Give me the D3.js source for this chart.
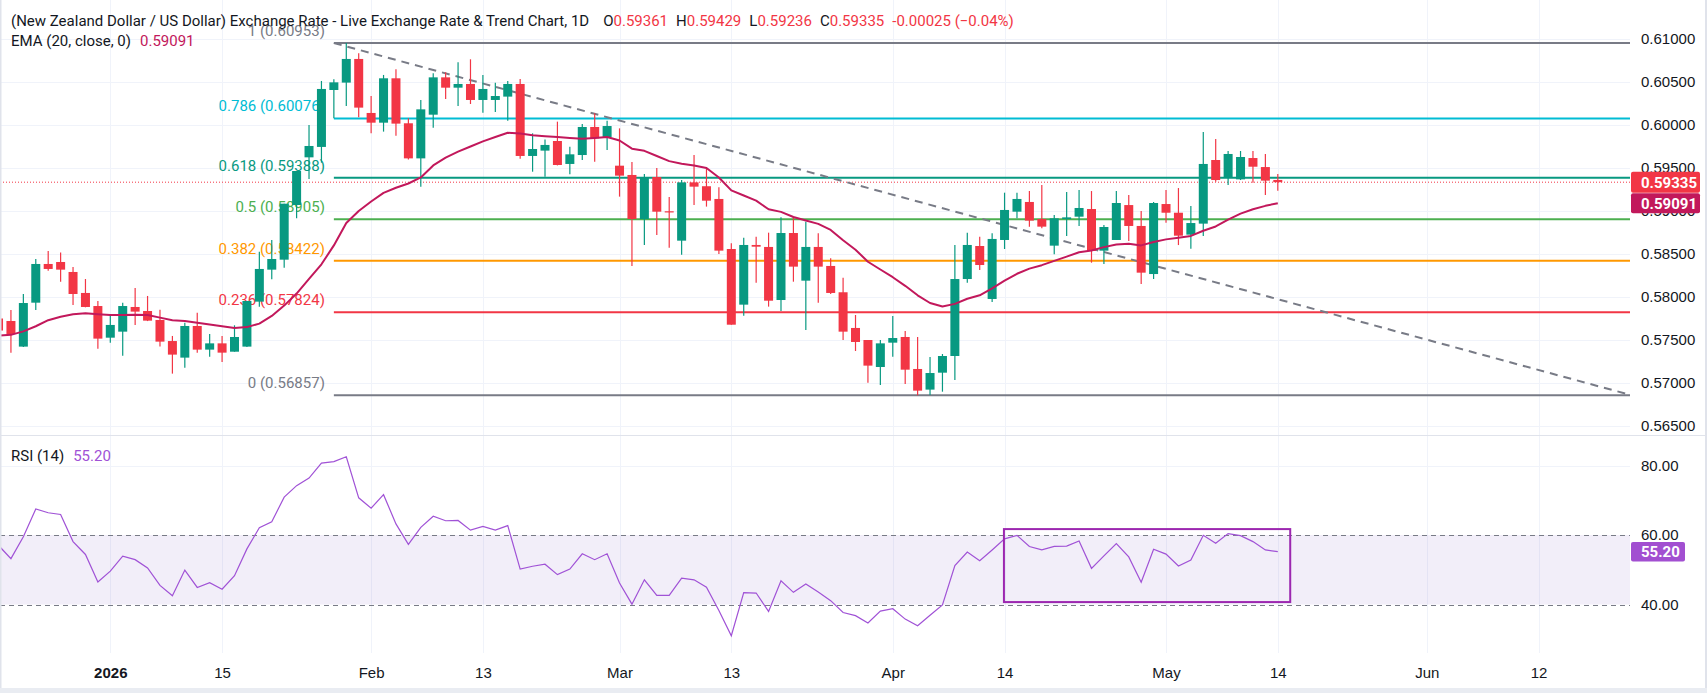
<!DOCTYPE html>
<html>
<head>
<meta charset="utf-8">
<script src="https://cdn.jsdelivr.net/npm/d3@7"></script>
<style>
  body { margin: 0; background: #fff; }
  svg { display: block; font-family: Roboto, "Open Sans", sans-serif; }
  .tick text { font-size: 15px; fill: #131722; }
</style>
</head>
<body>
<svg id="chart" width="1707" height="693"></svg>
<script>
/* SECTION: data */

// bar index 0 = first bar of 2026, bars run from -9 to 94
var firstBar = -9;

var openP = [0.5775,0.57721,0.57423,0.57934,0.58384,0.58407,0.58291,0.58047,0.57895,
  0.57527,0.57597,0.57884,0.57837,0.57733,0.57488,0.57295,0.57663,0.57388,0.57461,
  0.57364,0.57423,0.57946,0.58318,0.58434,0.59070,0.59624,0.59745,0.60407,0.60493,
  0.60768,0.60140,0.60027,0.60543,0.60020,0.59612,0.60120,0.60554,0.60434,0.60477,
  0.60291,0.60291,0.60330,0.60477,0.59640,0.59702,0.59814,0.59547,0.59651,0.59977,
  0.59857,0.59527,0.59419,0.58907,0.59395,0.58997,0.58655,0.59333,0.59288,0.59140,
  0.58558,0.57911,0.58605,0.58582,0.57965,0.58744,0.58190,0.58582,0.58361,0.58055,
  0.57640,0.57500,0.57186,0.57469,0.57535,0.57163,0.56923,0.57120,0.57314,0.58209,
  0.58593,0.57977,0.58663,0.58992,0.59105,0.58907,0.58597,0.58907,0.58934,0.59023,
  0.58539,0.58663,0.59069,0.58826,0.58267,0.59081,0.58980,0.58725,0.58853,0.59593,
  0.59387,0.59368,0.59616,0.59511,0.59361];
var highP = [0.5779,0.57849,0.58035,0.58442,0.58535,0.58516,0.58349,0.58209,0.57954,
  0.57791,0.57934,0.58105,0.58012,0.57853,0.57547,0.57702,0.57818,0.57570,0.57547,
  0.57671,0.57954,0.58527,0.58663,0.59085,0.59465,0.60000,0.60512,0.60531,0.60953,
  0.60834,0.60337,0.60582,0.60647,0.60078,0.60291,0.60601,0.60612,0.60729,0.60764,
  0.60581,0.60492,0.60512,0.60535,0.59903,0.59830,0.60039,0.59748,0.60012,0.60136,
  0.60050,0.59961,0.59570,0.59430,0.59500,0.59163,0.59361,0.59651,0.59496,0.59275,
  0.58624,0.58690,0.58702,0.58748,0.58926,0.58926,0.58876,0.58740,0.58450,0.58225,
  0.57791,0.57500,0.57500,0.57779,0.57605,0.57535,0.57302,0.57337,0.58605,0.58748,
  0.58702,0.58740,0.59213,0.59213,0.59232,0.59302,0.58953,0.59221,0.59244,0.59232,
  0.58837,0.59232,0.59186,0.59000,0.59105,0.59244,0.59267,0.59058,0.59919,0.59837,
  0.59698,0.59698,0.59698,0.59663,0.59429];
var lowP = [0.5752,0.57353,0.57420,0.57849,0.58306,0.58178,0.57907,0.57880,0.57399,
  0.57469,0.57318,0.57675,0.57720,0.57423,0.57109,0.57178,0.57353,0.57306,0.57244,
  0.57364,0.57420,0.57888,0.58206,0.58341,0.58915,0.59372,0.59562,0.60078,0.60221,
  0.60089,0.59903,0.59923,0.59876,0.59600,0.59283,0.59969,0.60302,0.60221,0.60244,
  0.60143,0.60151,0.60050,0.59609,0.59457,0.59399,0.59530,0.59426,0.59593,0.59574,
  0.59709,0.59167,0.58361,0.58605,0.58721,0.58574,0.58492,0.59070,0.59051,0.58500,
  0.57678,0.57783,0.58167,0.57888,0.57837,0.58178,0.57616,0.57934,0.58035,0.57500,
  0.57372,0.57004,0.56977,0.57306,0.56989,0.56857,0.56860,0.56899,0.57035,0.58167,
  0.58314,0.57942,0.58558,0.58915,0.58818,0.58798,0.58496,0.58709,0.58826,0.58399,
  0.58384,0.58663,0.58651,0.58151,0.58209,0.58864,0.58604,0.58562,0.58709,0.59340,
  0.59302,0.59360,0.59329,0.59186,0.59236];
var closeP = [0.5761,0.57570,0.57930,0.58384,0.58326,0.58318,0.58035,0.57884,0.57516,
  0.57675,0.57895,0.57830,0.57725,0.57481,0.57330,0.57663,0.57388,0.57461,0.57353,
  0.57535,0.57954,0.58326,0.58442,0.59085,0.59465,0.59756,0.60419,0.60496,0.60768,
  0.60202,0.60027,0.60543,0.60016,0.59612,0.60182,0.60554,0.60434,0.60477,0.60291,
  0.60419,0.60337,0.60477,0.59640,0.59721,0.59768,0.59535,0.59659,0.59977,0.59845,
  0.59988,0.59411,0.58907,0.59388,0.58992,0.58992,0.59333,0.59283,0.59120,0.58539,
  0.57678,0.58605,0.58585,0.57957,0.58744,0.58353,0.58582,0.58353,0.58047,0.57597,
  0.57477,0.57202,0.57461,0.57523,0.57155,0.56911,0.57116,0.57314,0.58209,0.58605,
  0.58372,0.58675,0.59012,0.59140,0.58888,0.58818,0.58915,0.58926,0.59035,0.58535,
  0.58814,0.59093,0.58826,0.58283,0.59093,0.58980,0.58713,0.58860,0.59547,0.59360,
  0.59663,0.59628,0.59515,0.59353,0.59335];

var ema20 = [0.5755,0.5756,0.5760,0.5766,0.5773,0.5777,0.5780,0.5781,0.5780,
  0.5779,0.5779,0.57795,0.5779,0.5776,0.5773,0.5772,0.5770,0.5768,0.5766,
  0.5764,0.5765,0.5769,0.5778,0.5790,0.5804,0.5821,0.5838,0.5860,0.5886,
  0.5900,0.5911,0.5921,0.5927,0.5932,0.5939,0.5953,0.5962,0.5969,0.5975,
  0.5981,0.5986,0.5991,0.5990,0.5988,0.5987,0.5986,0.5985,0.5984,0.5985,
  0.5986,0.5982,0.59725,0.5970,0.5964,0.5958,0.5955,0.5953,0.5950,0.5939,
  0.5924,0.5918,0.5912,0.5902,0.5899,0.5893,0.5889,0.5885,0.5878,0.5866,
  0.5855,0.5841,0.5832,0.5823,0.5813,0.5802,0.5793,0.5789,0.5792,0.5798,
  0.5802,0.5810,0.5819,0.5827,0.5833,0.5837,0.5842,0.5847,0.5852,0.5854,
  0.5858,0.5861,0.5862,0.5860,0.5864,0.5867,0.5869,0.5871,0.5877,0.5882,
  0.5890,0.5897,0.5902,0.5906,0.59091];

var rsi14 = [57.0,53.2,59.5,67.5,66.4,65.9,58.1,54.4,46.5,
  49.6,53.9,52.9,50.5,45.5,42.5,49.9,44.9,46.3,44.4,
  48.3,56.0,62.1,63.8,70.9,74.2,76.4,80.7,81.1,82.5,
  70.7,67.7,71.6,63.2,57.3,62.2,65.4,64.1,64.2,61.4,
  62.5,61.4,62.7,50.2,51.0,51.6,48.6,50.2,54.6,52.9,
  54.6,46.2,40.1,47.1,42.6,42.6,47.6,47.1,45.0,38.3,
  31.0,43.4,43.3,38.0,46.8,43.5,45.9,43.6,41.1,37.7,
  36.8,34.7,38.1,38.8,35.8,33.9,36.9,39.9,51.2,55.1,
  52.6,55.7,58.9,59.9,56.7,55.7,56.7,56.8,58.3,50.4,
  54.0,57.5,53.7,46.4,55.9,54.5,51.1,52.8,59.9,57.6,
  60.4,59.8,58.1,55.7,55.2];

var priceTicks = [0.565,0.57,0.575,0.58,0.585,0.59,0.595,0.60,0.605,0.61];
var rsiTicks = [40, 60, 80];

var timeTickIndex = [0, 9, 21, 30, 41, 50, 63, 72, 85, 94, 106, 115];
var timeTickLabel = ['2026','15','Feb','13','Mar','13','Apr','14','May','14','Jun','12'];

var fibLevel = ['1','0.786','0.618','0.5','0.382','0.236','0'];
var fibPrice = [0.60953,0.60076,0.59388,0.58905,0.58422,0.57824,0.56857];
var fibColor = ['#787b86','#00bcd4','#089981','#4caf50','#ff9800','#f23645','#787b86'];
var fibAnchor = [18, 122.5];   // bar indices where the fib tool starts / ends

var rsiBox = {from: 71.95, to: 95.0, top: 61.7, bottom: 40.7};

var lastPrice = 0.59335, lastEma = 0.59091, lastRsi = 55.20;
var legendOHLC = [['O', '0.59361'], ['H', '0.59429'], ['L', '0.59236'], ['C', '0.59335']];
var legendChange = '-0.00025 (\u22120.04%)';

/* SECTION: layout */

var svg = d3.select('#chart');
var plotRight = 1630, pricePaneBottom = 435, rsiPaneTop = 436, rsiPaneBottom = 653;
var up = '#089981', down = '#f23645', emaColor = '#c2185b', rsiColor = '#a052d6';
var fs = 15;

var x = d3.scaleLinear().domain([0, 94]).range([110.3, 1277.8]);
var y = d3.scaleLinear().domain([0.565, 0.61]).range([426, 39]);
var yR = d3.scaleLinear().domain([40, 80]).range([604.5, 465.5]);

var bars = openP.map(function(o, j) {
  return {i: j + firstBar, o: o, h: highP[j], l: lowP[j], c: closeP[j], e: ema20[j], r: rsi14[j]};
});

var defs = svg.append('defs');
defs.append('clipPath').attr('id', 'clipP').append('rect')
  .attr('x', 0).attr('y', 0).attr('width', plotRight).attr('height', pricePaneBottom);
defs.append('clipPath').attr('id', 'clipR').append('rect')
  .attr('x', 0).attr('y', rsiPaneTop).attr('width', plotRight).attr('height', rsiPaneBottom - rsiPaneTop);

/* SECTION: grid */

var grid = svg.append('g').attr('stroke', '#f0f3fa').attr('stroke-width', 1);
grid.selectAll('.hp').data(priceTicks).enter().append('line')
  .attr('x1', 0).attr('x2', plotRight)
  .attr('y1', function(d) { return Math.round(y(d)) + 0.5; })
  .attr('y2', function(d) { return Math.round(y(d)) + 0.5; });
grid.append('line').attr('x1', 0).attr('x2', plotRight)
  .attr('y1', Math.round(yR(80)) + 0.5).attr('y2', Math.round(yR(80)) + 0.5);
grid.selectAll('.vp').data(timeTickIndex).enter().append('line')
  .attr('x1', function(d) { return Math.round(x(d)) + 0.5; })
  .attr('x2', function(d) { return Math.round(x(d)) + 0.5; })
  .attr('y1', 0).attr('y2', pricePaneBottom);
grid.selectAll('.vr').data(timeTickIndex).enter().append('line')
  .attr('x1', function(d) { return Math.round(x(d)) + 0.5; })
  .attr('x2', function(d) { return Math.round(x(d)) + 0.5; })
  .attr('y1', rsiPaneTop).attr('y2', rsiPaneBottom);

/* SECTION: price pane */

var pp = svg.append('g').attr('clip-path', 'url(#clipP)');

// last price line
pp.append('line')
  .attr('x1', 0).attr('x2', plotRight)
  .attr('y1', y(lastPrice)).attr('y2', y(lastPrice))
  .attr('stroke', down).attr('stroke-width', 1).attr('stroke-dasharray', '1,2');

// fib retracement
var fx1 = x(fibAnchor[0]), fx2 = x(fibAnchor[1]);
pp.selectAll('.fib').data(fibPrice).enter().append('line')
  .attr('x1', fx1).attr('x2', fx2)
  .attr('y1', function(d) { return y(d); }).attr('y2', function(d) { return y(d); })
  .attr('stroke', function(d, k) { return fibColor[k]; })
  .attr('stroke-width', 2);
pp.append('line')
  .attr('x1', fx1).attr('y1', y(fibPrice[0]))
  .attr('x2', fx2).attr('y2', y(fibPrice[fibPrice.length - 1]))
  .attr('stroke', '#787b86').attr('stroke-width', 2).attr('stroke-dasharray', '8,6');
pp.selectAll('.fibl').data(fibPrice).enter().append('text')
  .attr('x', fx1 - 9)
  .attr('y', function(d) { return y(d) - 7; })
  .attr('text-anchor', 'end')
  .attr('font-size', fs)
  .attr('fill', function(d, k) { return fibColor[k]; })
  .text(function(d, k) { return fibLevel[k] + ' (' + d.toFixed(5) + ')'; });

// candles
var candle = pp.selectAll('.candle').data(bars).enter().append('g');
candle.append('line')
  .attr('x1', function(d) { return x(d.i); }).attr('x2', function(d) { return x(d.i); })
  .attr('y1', function(d) { return y(d.h); }).attr('y2', function(d) { return y(d.l); })
  .attr('stroke', function(d) { return d.c >= d.o ? up : down; })
  .attr('stroke-width', 1.2);
candle.append('rect')
  .attr('x', function(d) { return x(d.i) - 4.5; })
  .attr('width', 9)
  .attr('y', function(d) { return y(Math.max(d.o, d.c)); })
  .attr('height', function(d) { return Math.max(1.2, Math.abs(y(d.o) - y(d.c))); })
  .attr('fill', function(d) { return d.c >= d.o ? up : down; });

// EMA 20
pp.append('path').datum(bars)
  .attr('fill', 'none').attr('stroke', emaColor).attr('stroke-width', 2)
  .attr('stroke-linejoin', 'round')
  .attr('d', d3.line().x(function(d) { return x(d.i); }).y(function(d) { return y(d.e); }));

/* SECTION: RSI pane */

var rp = svg.append('g').attr('clip-path', 'url(#clipR)');
rp.append('rect')
  .attr('x', 0).attr('width', plotRight)
  .attr('y', yR(60)).attr('height', yR(40) - yR(60))
  .attr('fill', 'rgba(126,87,194,0.1)');
rp.selectAll('.band').data([60, 40]).enter().append('line')
  .attr('x1', 0).attr('x2', plotRight)
  .attr('y1', function(d) { return Math.round(yR(d)) + 0.5; })
  .attr('y2', function(d) { return Math.round(yR(d)) + 0.5; })
  .attr('stroke', '#787b86').attr('stroke-dasharray', '5,4');
rp.append('path').datum(bars)
  .attr('fill', 'none').attr('stroke', rsiColor).attr('stroke-width', 1.2)
  .attr('d', d3.line().x(function(d) { return x(d.i); }).y(function(d) { return yR(d.r); }));
rp.append('rect')
  .attr('x', x(rsiBox.from)).attr('width', x(rsiBox.to) - x(rsiBox.from))
  .attr('y', yR(rsiBox.top)).attr('height', yR(rsiBox.bottom) - yR(rsiBox.top))
  .attr('fill', 'none').attr('stroke', '#9c27b0').attr('stroke-width', 2);

/* SECTION: axes */

var yAxis = svg.append('g').attr('transform', 'translate(' + plotRight + ',0)')
  .call(d3.axisRight(y).tickValues(priceTicks).tickFormat(d3.format('.5f')).tickSize(0).tickPadding(11));
var rAxis = svg.append('g').attr('transform', 'translate(' + plotRight + ',0)')
  .call(d3.axisRight(yR).tickValues(rsiTicks).tickFormat(d3.format('.2f')).tickSize(0).tickPadding(11));
var xAxis = svg.append('g').attr('transform', 'translate(0,' + rsiPaneBottom + ')')
  .call(d3.axisBottom(x).tickValues(timeTickIndex)
    .tickFormat(function(d, k) { return timeTickLabel[k]; }).tickSize(0).tickPadding(14));
[yAxis, rAxis, xAxis].forEach(function(g) {
  g.select('.domain').remove();
  g.selectAll('text').attr('font-family', null).attr('font-size', null);
});
xAxis.selectAll('text').filter(function(d, k) { return k === 0; }).attr('font-weight', 'bold');

// value tags on the right axis
function tag(yy, h, w, color, label) {
  svg.append('rect').attr('x', plotRight + 1).attr('y', yy - h / 2)
    .attr('width', w).attr('height', h).attr('rx', 2).attr('fill', color);
  svg.append('text').attr('x', plotRight + 11).attr('y', yy + 5.5)
    .attr('font-size', fs).attr('font-weight', 'bold').attr('fill', '#fff').text(label);
}
tag(y(lastPrice), 21, 69, down, lastPrice.toFixed(5));
tag(y(lastEma), 20, 69, emaColor, lastEma.toFixed(5));
tag(yR(lastRsi), 19.5, 54, '#a24fd1', lastRsi.toFixed(2));

/* SECTION: frame + legends */

svg.append('line').attr('x1', 0).attr('x2', 1705).attr('y1', pricePaneBottom + 0.5).attr('y2', pricePaneBottom + 0.5)
  .attr('stroke', '#e0e3eb');
svg.append('rect').attr('x', 0).attr('y', 0).attr('width', 1.5).attr('height', 693).attr('fill', '#e0e3eb');
svg.append('rect').attr('x', 1705).attr('y', 0).attr('width', 2).attr('height', 693).attr('fill', '#e0e3eb');
svg.append('rect').attr('x', 0).attr('y', 688).attr('width', 1707).attr('height', 5).attr('fill', '#e9ecf2');

var head = svg.append('text').attr('x', 11).attr('y', 26).attr('font-size', fs).attr('fill', '#131722');
head.append('tspan').text('(New Zealand Dollar / US Dollar) Exchange Rate - Live Exchange Rate & Trend Chart, 1D');
legendOHLC.forEach(function(p, k) {
  head.append('tspan').attr('dx', k === 0 ? 14 : 8).text(p[0]);
  head.append('tspan').attr('fill', down).text(p[1]);
});
head.append('tspan').attr('dx', 8).attr('fill', down).text(legendChange);

var emaHead = svg.append('text').attr('x', 11).attr('y', 46).attr('font-size', fs).attr('fill', '#131722');
emaHead.append('tspan').text('EMA (20, close, 0)');
emaHead.append('tspan').attr('dx', 9).attr('fill', emaColor).text(lastEma.toFixed(5));

var rsiHead = svg.append('text').attr('x', 11).attr('y', 461).attr('font-size', fs).attr('fill', '#131722');
rsiHead.append('tspan').text('RSI (14)');
rsiHead.append('tspan').attr('dx', 9).attr('fill', rsiColor).text(lastRsi.toFixed(2));
</script>
</body>
</html>
